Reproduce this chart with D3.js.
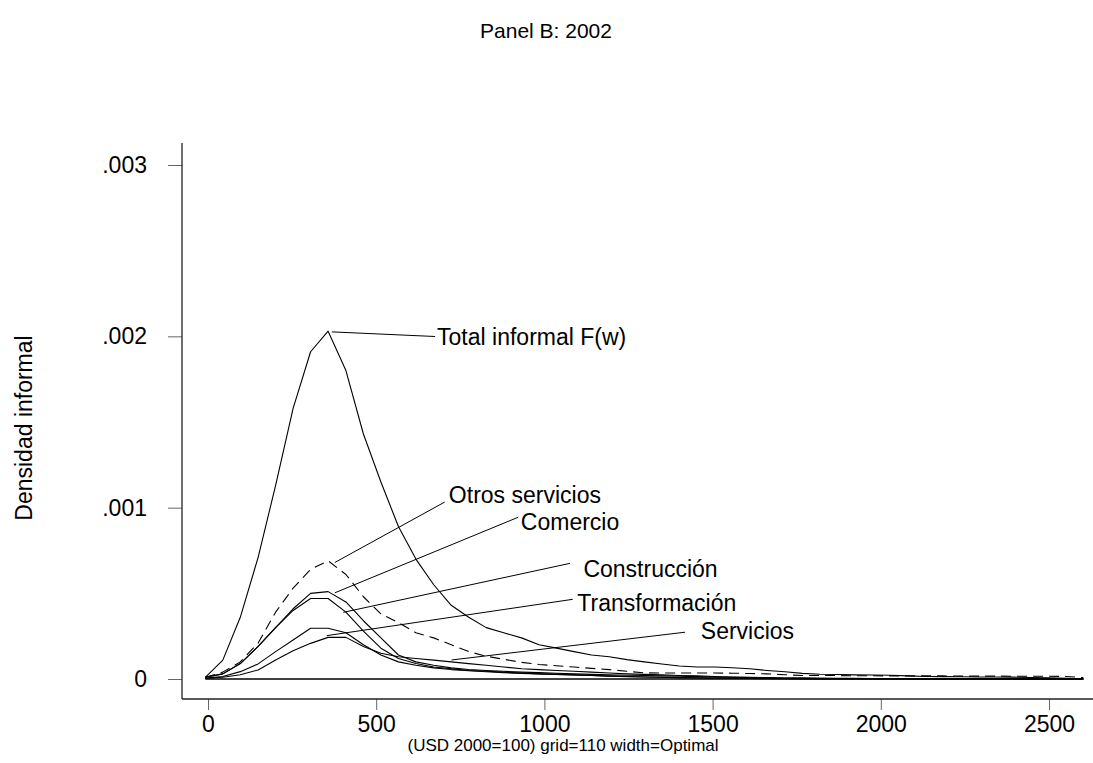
<!DOCTYPE html>
<html>
<head>
<meta charset="utf-8">
<script src="https://cdn.jsdelivr.net/npm/d3@7"></script>
<style>
  html, body { margin: 0; padding: 0; background: #fff; }
  svg { display: block; }
  text { font-family: "Liberation Sans", Arial, Helvetica, sans-serif; fill: #000; }
</style>
</head>
<body>
<div id="chart"></div>
<script>
// ---------------- DATA ----------------
const title = "Panel B: 2002";
const yTitle = "Densidad informal";
const xTitle = "(USD 2000=100) grid=110 width=Optimal";

const xTicks = [0, 500, 1000, 1500, 2000, 2500];
const yTicks = [0, 0.001, 0.002, 0.003];
const yTickLabels = ["0", ".001", ".002", ".003"];

const xGrid = [-8,44,96,149,201,253,305,357,410,462,514,566,618,671,723,775,827,879,932,984,1036,1088,1140,1193,1245,1297,1349,1401,1454,1506,1558,1610,1662,1715,1767,1819,1871,1923,1976,2028,2080,2132,2184,2237,2289,2341,2393,2445,2498,2550,2602];

const totalInformal = [0.00001,0.00011,0.00036,0.00071,0.00113,0.00158,0.00191,0.00203,0.00180,0.00143,0.00115,0.00089,0.00070,0.00055,0.00043,0.00036,0.00030,0.00027,0.00024,0.00020,0.00018,0.00016,0.00014,0.00013,0.000113,0.00010,0.000088,0.000076,0.00007,0.00007,0.000066,0.00006,0.00005,0.000042,0.000033,0.000028,0.000026,0.000024,0.000023,0.000022,0.000018,0.000015,0.000014,0.000013,0.000012,0.000012,0.000011,0.000009,0.000007,0.000004,0.000001];

const otrosServicios = [0.00001,0.00004,0.00010,0.00021,0.00039,0.00053,0.00064,0.00069,0.00061,0.00048,0.00038,0.00033,0.00027,0.00024,0.00020,0.00016,0.000133,0.000115,0.000097,0.000085,0.000077,0.00007,0.000062,0.000055,0.000045,0.000036,0.000035,0.000035,0.000035,0.000035,0.000034,0.000032,0.00003,0.000025,0.00002,0.00002,0.00002,0.000019,0.000019,0.000018,0.000018,0.000018,0.000018,0.000017,0.000017,0.000017,0.000016,0.000016,0.000016,0.000015,0.000008];

const comercio = [0.00001,0.00003,0.00009,0.00019,0.00030,0.00041,0.00050,0.00051,0.00045,0.00034,0.00024,0.00014,0.00010,0.00008,0.000065,0.000055,0.00005,0.000045,0.00004,0.000037,0.000034,0.00003,0.000027,0.000024,0.000022,0.00002,0.000018,0.000016,0.000014,0.000012,0.00001,0.000008,0.000007,0.000006,0.000005,0.000004,0.000004,0.000004,0.000003,0.000003,0.000003,0.000002,0.000002,0.000002,0.000002,0.000002,0.000001,0.000001,0.000001,0.000001,0];

const construccion = [0.00001,0.00003,0.00009,0.00019,0.00030,0.00040,0.00047,0.00047,0.00039,0.00028,0.00018,0.00012,0.00009,0.00007,0.00006,0.00005,0.000045,0.00004,0.000035,0.00003,0.000027,0.000024,0.00002,0.000017,0.000015,0.000012,0.00001,0.000008,0.000007,0.000006,0.000005,0.000004,0.000003,0.000002,0.000002,0.000001,0.000001,0.000001,0.000001,0,0,0,0,0,0,0,0,0,0,0,0];

const transformacion = [0.000005,0.000015,0.000043,0.000088,0.00016,0.000228,0.000296,0.000296,0.00027,0.0002,0.00014,0.0001,0.00008,0.000065,0.000055,0.000048,0.000042,0.000037,0.000033,0.00003,0.000027,0.000024,0.00002,0.000017,0.000014,0.000012,0.00001,0.000008,0.000006,0.000005,0.000004,0.000003,0.000002,0.000002,0.000001,0.000001,0,0,0,0,0,0,0,0,0,0,0,0,0,0,0];

const servicios = [0.000003,0.00001,0.000025,0.000053,0.000111,0.000165,0.000208,0.000243,0.000243,0.00019,0.00015,0.00013,0.00012,0.00011,0.0001,0.00009,0.00008,0.00007,0.00006,0.000055,0.00005,0.000045,0.00004,0.000035,0.00003,0.000027,0.000024,0.00002,0.000018,0.000015,0.000012,0.00001,0.000008,0.000006,0.000005,0.000004,0.000003,0.000003,0.000002,0.000002,0.000002,0.000001,0.000001,0.000001,0.000001,0.000001,0,0,0,0,0];

const seriesNames = ["Total informal F(w)", "Otros servicios", "Comercio", "Construcción", "Transformación", "Servicios"];
const seriesValues = [totalInformal, otrosServicios, comercio, construccion, transformacion, servicios];
const seriesDashed = [false, true, false, false, false, false];

// annotation leaders & labels in data units
const leaderFromX = [368, 377, 377, 402, 353, 724];
const leaderFromY = [0.002026, 0.00068, 0.000503, 0.000389, 0.000253, 0.000111];
const leaderToX   = [675, 704, 922, 1076, 1084, 1418];
const leaderToY   = [0.001999, 0.001033, 0.000944, 0.000675, 0.000465, 0.000273];
const labelX      = [681, 716, 930, 1116, 1098, 1465];
const labelY      = [0.001949, 0.001027, 0.00087, 0.000595, 0.000397, 0.000233];

// ---------------- LAYOUT ----------------
const W = 1093, H = 763;
const plotLeft = 182, plotRight = 1093, plotTop = 143, plotBottom = 699;
const fs = 23;

const x = d3.scaleLinear().domain([0, 2500]).range([208, 1049]);
const y = d3.scaleLinear().domain([0, 0.003]).range([679, 165]);

const svg = d3.select("#chart").append("svg").attr("width", W).attr("height", H);

// title
svg.append("text").attr("x", 546).attr("y", 38).attr("text-anchor", "middle")
  .style("font-size", "21px").text(title);

// y title
svg.append("text").attr("transform", "translate(32,428) rotate(-90)")
  .attr("text-anchor", "middle").style("font-size", fs + "px").text(yTitle);

// x title
svg.append("text").attr("x", 563).attr("y", 751).attr("text-anchor", "middle")
  .style("font-size", "17px").text(xTitle);

// axes
const yAxis = d3.axisLeft(y).tickValues(yTicks)
  .tickFormat((d, i) => yTickLabels[i]).tickSize(14).tickPadding(21);
const gy = svg.append("g").attr("transform", `translate(${plotLeft},0)`).call(yAxis);
gy.select(".domain").remove();
gy.selectAll(".tick line").attr("stroke", "#666");
gy.selectAll(".tick text").style("font-size", fs + "px").attr("fill", "#000")
  .style("font-family", '"Liberation Sans", Arial, sans-serif');

const xAxis = d3.axisBottom(x).tickValues(xTicks).tickFormat(d3.format("d"))
  .tickSize(11).tickPadding(6);
const gx = svg.append("g").attr("transform", `translate(0,${plotBottom})`).call(xAxis);
gx.select(".domain").remove();
gx.selectAll(".tick line").attr("stroke", "#666");
gx.selectAll(".tick text").style("font-size", fs + "px").attr("fill", "#000")
  .style("font-family", '"Liberation Sans", Arial, sans-serif');

// axis lines (plot region frame: left & bottom)
svg.append("line").attr("x1", plotLeft).attr("x2", plotLeft)
  .attr("y1", plotTop).attr("y2", plotBottom).attr("stroke", "#222").attr("stroke-width", 1.3);
svg.append("line").attr("x1", plotLeft).attr("x2", plotRight)
  .attr("y1", plotBottom).attr("y2", plotBottom).attr("stroke", "#222").attr("stroke-width", 1.3);

// zero line across the grid
svg.append("line")
  .attr("x1", x(xGrid[0])).attr("x2", x(xGrid[xGrid.length - 1]))
  .attr("y1", y(0)).attr("y2", y(0)).attr("stroke", "#000").attr("stroke-width", 1.6);

// series
const line = d3.line().x(d => x(d[0])).y(d => y(d[1]));
seriesValues.forEach((vals, k) => {
  svg.append("path")
    .datum(xGrid.map((g, i) => [g, vals[i]]))
    .attr("d", line)
    .attr("fill", "none")
    .attr("stroke", "#000")
    .attr("stroke-width", 1.1)
    .attr("stroke-linejoin", "round")
    .attr("stroke-dasharray", seriesDashed[k] ? "10,6" : null);
});

// leaders & labels
seriesNames.forEach((name, k) => {
  svg.append("line")
    .attr("x1", x(leaderFromX[k])).attr("y1", y(leaderFromY[k]))
    .attr("x2", x(leaderToX[k])).attr("y2", y(leaderToY[k]))
    .attr("stroke", "#000").attr("stroke-width", 1);
  svg.append("text")
    .attr("x", x(labelX[k])).attr("y", y(labelY[k]))
    .style("font-size", fs + "px").text(name);
});
</script>
</body>
</html>
